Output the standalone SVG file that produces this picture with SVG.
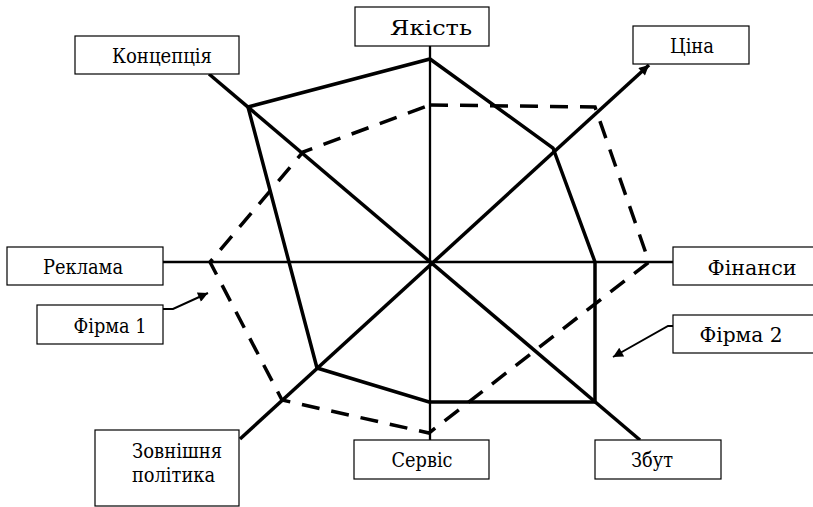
<svg xmlns="http://www.w3.org/2000/svg" width="813" height="507" viewBox="0 0 813 507">
<style>
.box{fill:#fff;stroke:#000;stroke-width:1.2}
.lbl{font-family:'DejaVu Serif','Liberation Serif',serif;font-stretch:condensed;font-size:20px;fill:#000;text-anchor:middle}
.axis{stroke:#000;stroke-width:3.5;fill:none}
.thin{stroke:#000;stroke-width:2.3;fill:none}
.solid{stroke:#000;stroke-width:3.5;fill:none;stroke-linejoin:miter}
.dash{stroke:#000;stroke-width:3.5;fill:none;stroke-dasharray:18 12}
.ptr{stroke:#000;stroke-width:2;fill:none}
</style>
<defs>
<marker id="ah" viewBox="0 0 10 10" refX="10" refY="5" markerWidth="12" markerHeight="10" markerUnits="userSpaceOnUse" orient="auto"><path d="M0,0 L10,5 L0,10 z" fill="#000"/></marker>
</defs>
<rect width="813" height="507" fill="#fff"/>
<g id="connectors">
<line class="thin" x1="430" y1="46" x2="430" y2="440"/>
<line class="thin" x1="163" y1="262" x2="673" y2="262"/>
<line class="axis" x1="209" y1="74" x2="640" y2="440"/>
<line class="axis" x1="240" y1="439" x2="649" y2="65" marker-end="url(#ah)"/>
<polygon id="firm1" class="solid" points="248,107 430,59 553,148 595,262 595,402 429,402 317,368"/>
<polygon id="firm2" class="dash" points="430,105 595,107 649,262 429,433 282,400 210,262 303,152"/>
<path class="ptr" d="M163,309 L173,309 L208,293" marker-end="url(#ah)"/>
<path class="ptr" d="M673,326 L668,326 L613,357" marker-end="url(#ah)"/>
</g>
<g id="n-yakist"><rect class="box" x="355" y="7" width="134" height="39"/><text class="lbl" x="431" y="35" textLength="82" lengthAdjust="spacingAndGlyphs">Якість</text></g>
<g id="n-tsina"><rect class="box" x="633" y="26" width="116" height="38"/><text class="lbl" x="692" y="53" textLength="44" lengthAdjust="spacingAndGlyphs">Ціна</text></g>
<g id="n-kontseptsiya"><rect class="box" x="75" y="36" width="164" height="38"/><text class="lbl" x="162" y="63" textLength="100" lengthAdjust="spacingAndGlyphs">Концепція</text></g>
<g id="n-reklama"><rect class="box" x="7" y="247" width="156" height="38"/><text class="lbl" x="83" y="274" textLength="80" lengthAdjust="spacingAndGlyphs">Реклама</text></g>
<g id="n-finansy"><rect class="box" x="673" y="247" width="141" height="38"/><text class="lbl" x="752" y="275" textLength="89" lengthAdjust="spacingAndGlyphs">Фінанси</text></g>
<g id="n-firma1"><rect class="box" x="37" y="305" width="126" height="39"/><text class="lbl" x="110" y="333" textLength="73" lengthAdjust="spacingAndGlyphs">Фірма 1</text></g>
<g id="n-firma2"><rect class="box" x="673" y="315" width="141" height="38"/><text class="lbl" x="741" y="342" textLength="83" lengthAdjust="spacingAndGlyphs">Фірма 2</text></g>
<g id="n-zovnishnya"><rect class="box" x="95" y="430" width="144" height="76"/><text class="lbl" x="177" y="458" textLength="90" lengthAdjust="spacingAndGlyphs">Зовнішня</text><text class="lbl" x="173.5" y="482" textLength="83" lengthAdjust="spacingAndGlyphs">політика</text></g>
<g id="n-servis"><rect class="box" x="354" y="440" width="135" height="39"/><text class="lbl" x="422" y="467" textLength="61" lengthAdjust="spacingAndGlyphs">Сервіс</text></g>
<g id="n-zbut"><rect class="box" x="595" y="440" width="126" height="39"/><text class="lbl" x="652" y="467" textLength="42" lengthAdjust="spacingAndGlyphs">Збут</text></g>
</svg>
